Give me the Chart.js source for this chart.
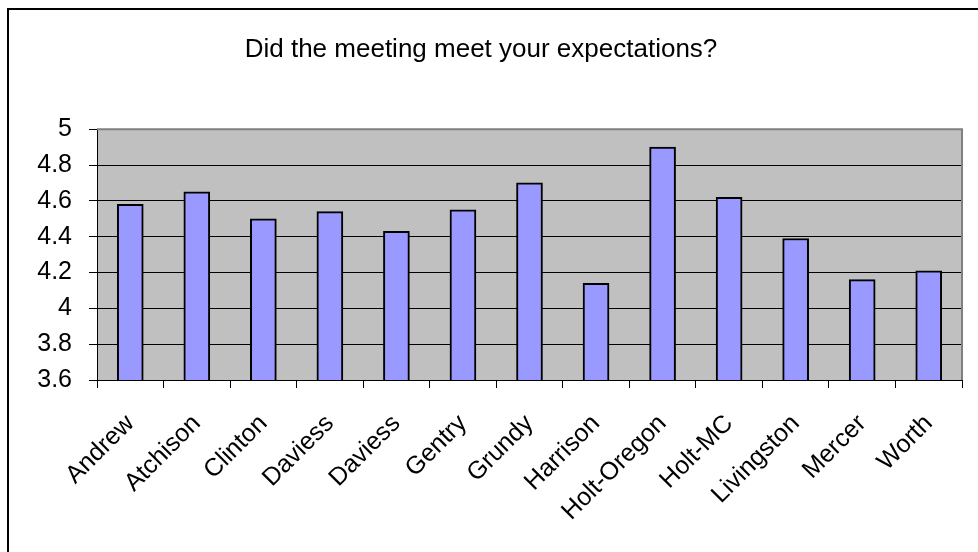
<!DOCTYPE html>
<html>
<head>
<meta charset="utf-8">
<script src="https://cdn.jsdelivr.net/npm/chart.js@4/dist/chart.umd.min.js"></script>
<style>
  html, body { margin: 0; padding: 0; background: #fff; }
  #frame { position: absolute; left: 7px; top: 8px; width: 980px; height: 560px;
           border-top: 2px solid #000; border-left: 2px solid #000; box-sizing: border-box; }
  #wrap { position: absolute; left: 0; top: 0; width: 978px; height: 552px; }
</style>
</head>
<body>
<div id="frame"></div>
<div id="wrap"><canvas id="c" width="978" height="552"></canvas></div>
<script>
const categories = ["Andrew", "Atchison", "Clinton", "Daviess", "Daviess", "Gentry", "Grundy",
                    "Harrison", "Holt-Oregon", "Holt-MC", "Livingston", "Mercer", "Worth"];
const values = [4.58, 4.65, 4.50, 4.54, 4.43, 4.55, 4.70, 4.14, 4.90, 4.62, 4.39, 4.16, 4.21];
const yMin = 3.6, yMax = 5, yStep = 0.2;
const titleText = "Did the meeting meet your expectations?";

const plotBg = {
  id: 'plotBg',
  beforeDraw(chart) {
    const a = chart.chartArea, ctx = chart.ctx;
    ctx.save();
    ctx.fillStyle = '#C0C0C0';
    ctx.fillRect(a.left, a.top, a.right - a.left, a.bottom - a.top);
    ctx.restore();
  },
  afterDatasetsDraw(chart) {
    const a = chart.chartArea, ctx = chart.ctx;
    ctx.save();
    ctx.strokeStyle = '#808080';
    ctx.lineWidth = 2;
    ctx.beginPath();
    ctx.moveTo(a.left, a.top);
    ctx.lineTo(a.right, a.top);
    ctx.lineTo(a.right, a.bottom);
    ctx.stroke();
    ctx.restore();
  }
};

Chart.defaults.font.family = '"Liberation Sans", Arial, sans-serif';
Chart.defaults.color = '#000';

new Chart(document.getElementById('c'), {
  type: 'bar',
  data: {
    labels: categories,
    datasets: [{
      data: values,
      backgroundColor: '#9999FF',
      borderColor: '#000',
      borderWidth: 2,
      borderSkipped: 'bottom',
      barThickness: 26
    }]
  },
  options: {
    responsive: false,
    animation: false,
    layout: { padding: { left: 0, right: 16, top: 0, bottom: 0 } },
    plugins: {
      legend: { display: false },
      tooltip: { enabled: false },
      title: {
        display: true,
        text: titleText,
        font: { size: 26, weight: 'normal' },
        color: '#000',
        padding: { top: 34, bottom: 64 }
      }
    },
    scales: {
      x: {
        offset: true,
        grid: { offset: true, drawOnChartArea: false, drawTicks: true, tickLength: 8, color: '#000' },
        border: { color: '#000', width: 1 },
        ticks: { maxRotation: 45, minRotation: 45, font: { size: 25 }, color: '#000', padding: 21, autoSkip: false },
        afterFit(s) { s.height = 172; }
      },
      y: {
        min: yMin, max: yMax,
        grid: { color: '#000', tickLength: 8, lineWidth: 1 },
        border: { color: '#000', width: 1 },
        ticks: { stepSize: yStep, font: { size: 25 }, color: '#000', padding: 17,
                 callback: v => String(Math.round(v * 10) / 10) },
        afterFit(s) { s.width = 97; }
      }
    }
  },
  plugins: [plotBg]
});
</script>
</body>
</html>
